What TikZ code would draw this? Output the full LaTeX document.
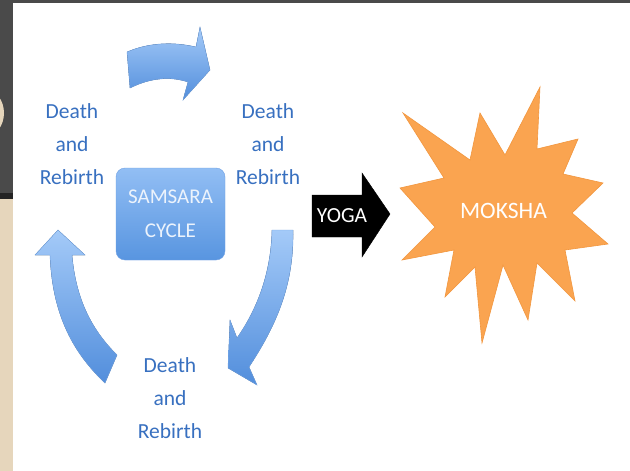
\documentclass[tikz,border=0pt]{standalone}
\usepackage{fontspec}
\setmainfont{Carlito}
\usepackage{xcolor}
\usepackage{tikz}
\usetikzlibrary{calc,positioning}

\definecolor{slidegray}{RGB}{74,74,74}
\definecolor{slidedark}{RGB}{36,36,36}
\definecolor{slidebeige}{RGB}{230,214,188}
\definecolor{stagetext}{RGB}{56,112,192}
\definecolor{arrowtop}{RGB}{164,202,248}
\definecolor{arrowbot}{RGB}{82,142,220}
\definecolor{arrowedge}{RGB}{116,166,230}
\definecolor{boxtop}{RGB}{146,190,244}
\definecolor{boxbot}{RGB}{88,149,224}
\definecolor{boxedge}{RGB}{110,160,228}
\definecolor{boxtext}{RGB}{236,243,252}
\definecolor{mokshaorange}{RGB}{250,164,80}
\definecolor{mokshaedge}{RGB}{242,150,62}

\tikzset{
  stage/.style={
    align=center,
    text=stagetext,
    inner sep=0pt,
    font=\fontsize{21.5}{33}\selectfont},
  cyclearrow/.style={top color=arrowtop, bottom color=arrowbot,
    draw=arrowedge, line width=0.4pt},
  cyclebox/.style={
    rectangle,
    rounded corners=9pt,
    % soft blue tile
    top color=boxtop, bottom color=boxbot,
    draw=boxedge,
    minimum width=109pt,
    minimum height=92pt,
    text=boxtext,
    align=center,
    font=\fontsize{21}{34}\selectfont},
  yogaarrow/.style={fill=black, draw=black},
  yogalabel/.style={text=white, inner sep=0pt, font=\fontsize{21.5}{24}\selectfont},
  burst/.style={fill=mokshaorange, draw=mokshaedge, line width=0.6pt},
  burstlabel/.style={text=white, inner sep=0pt, font=\fontsize{23.5}{26}\selectfont}
}

\begin{document}
\begin{tikzpicture}[x=1pt,y=-1pt]
    \useasboundingbox (0,0) rectangle (630,471);

    % slide behind the panel
    \fill[slidegray] (0,0) rectangle (630,198);
    \fill[slidedark] (0,193) rectangle (13,199);
    \fill[slidebeige] (0,199) rectangle (13,471);
    \begin{scope}
      \clip (0,0) rectangle (13,193);
      \fill[slidebeige] (-14,113) ellipse [x radius=18, y radius=23];
    \end{scope}
    \fill[white] (13,3) rectangle (630,471);

    % the cycle
    \node[stage] (left) at (72,144) {Death\\and\\Rebirth};
    \node[stage] (right) at (268,144) {Death\\and\\Rebirth};
    \node[stage] (bottom) at (170,398) {Death\\and\\Rebirth};
    \node[cyclebox] (samsara) at (170.5,214) {SAMSARA\\CYCLE};

    \filldraw[cyclearrow] (127,52) .. controls (150,42) and (175,42) .. (196,47)
        -- (200,27) -- (210,70) -- (183,100) -- (188,82)
        .. controls (170,76) and (150,78) .. (130,88) -- cycle;
    \filldraw[cyclearrow] (272,230) -- (293,230)
        .. controls (294,280) and (280,320) .. (249,367)
        -- (257,385) -- (228,368) -- (230,320) -- (237,338)
        .. controls (258,308) and (271,272) .. (272,230) -- cycle;
    \filldraw[cyclearrow] (58,230) -- (85,255) -- (72,255)
        .. controls (76,300) and (92,330) .. (117,355)
        -- (105,383)
        .. controls (70,350) and (52,310) .. (50,255)
        -- (35,255) -- cycle;

    % way out
    \filldraw[yogaarrow] (312,195) -- (362,195) -- (362,173) -- (390,214)
        -- (362,257) -- (362,237) -- (312,237) -- cycle;
    \node[yogalabel] (yoga) at (342,216) {YOGA};

    \filldraw[burst] (403,113) -- (470,160) -- (480,113) -- (505,155)
        -- (540,87) -- (537,149) -- (578,139) -- (563,174)
        -- (603,183) -- (572,213) -- (608,244) -- (565,250)
        -- (575,301) -- (537,263) -- (528,320) -- (503,265)
        -- (482,343) -- (475,267) -- (445,297) -- (454,250)
        -- (402,260) -- (435,227) -- (400,188) -- (444,178) -- cycle;
    \node[burstlabel] (moksha) at (503.5,211) {MOKSHA};
\end{tikzpicture}
\end{document}
